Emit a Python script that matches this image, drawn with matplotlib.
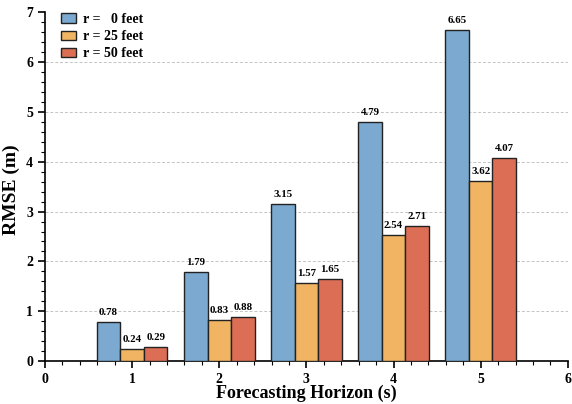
import matplotlib
matplotlib.use("Agg")
import matplotlib.pyplot as plt
import numpy as np

horizons = [1, 2, 3, 4, 5]
series_labels = ["r =   0 feet", "r = 25 feet", "r = 50 feet"]
rmse_r0 = [0.78, 1.79, 3.15, 4.79, 6.65]
rmse_r25 = [0.24, 0.83, 1.57, 2.54, 3.62]
rmse_r50 = [0.29, 0.88, 1.65, 2.71, 4.07]
colors = ["#7BA9D0", "#F0B462", "#DD6E56"]

plt.rcParams['font.family'] = ['Liberation Serif', 'DejaVu Serif']
plt.rcParams['font.weight'] = 'bold'

fig = plt.figure(figsize=(5.72, 4.04), dpi=100)
ax = fig.add_axes([0.0787, 0.106, 0.914, 0.864])

w = 0.27
x = np.array(horizons, dtype=float)
for i, (vals, lab, c) in enumerate(zip([rmse_r0, rmse_r25, rmse_r50], series_labels, colors)):
    bars = ax.bar(x + (i - 1) * w, vals, width=w, color=c, edgecolor='#222222',
                  linewidth=1.0, label=lab, zorder=3)
    for b, v in zip(bars, vals):
        ax.text(b.get_x() + b.get_width() / 2, v + 0.1, f"{v:.2f}", ha='center',
                va='bottom', fontsize=7.8, fontweight='bold', zorder=4)

ax.set_xlim(0, 6)
ax.set_ylim(0, 7)
ax.set_xticks(range(0, 7))
ax.set_yticks(range(0, 8))
ax.set_xticks(np.arange(0, 6.01, 0.2), minor=True)
ax.set_yticks(np.arange(0, 7.01, 0.2), minor=True)
ax.tick_params(axis='both', which='major', length=5, width=1.2, labelsize=10, direction='out')
ax.tick_params(axis='both', which='minor', length=3, width=0.8, direction='out')
for lbl in ax.get_xticklabels() + ax.get_yticklabels():
    lbl.set_fontweight('bold')
ax.spines['top'].set_visible(False)
ax.spines['right'].set_visible(False)
ax.spines['left'].set_linewidth(1.2)
ax.spines['bottom'].set_linewidth(1.2)
for yv in range(1, 7):
    ax.axhline(yv, linestyle=(0, (3, 2)), color='#C4C4C4', linewidth=0.7, zorder=0)

ax.set_xlabel("Forecasting Horizon (s)", fontsize=13, fontweight='bold', labelpad=-1)
ax.set_ylabel("RMSE (m)", fontsize=14, fontweight='bold')
ax.yaxis.set_label_coords(-0.048, 0.49)

leg = ax.legend(loc='upper left', frameon=False, fontsize=10, handlelength=1.05,
                handleheight=0.7, borderaxespad=0.0, labelspacing=0.3,
                handletextpad=0.5, bbox_to_anchor=(0.02, 1.013))
for t in leg.get_texts():
    t.set_fontweight('bold')

fig.savefig("out.png", dpi=100)
